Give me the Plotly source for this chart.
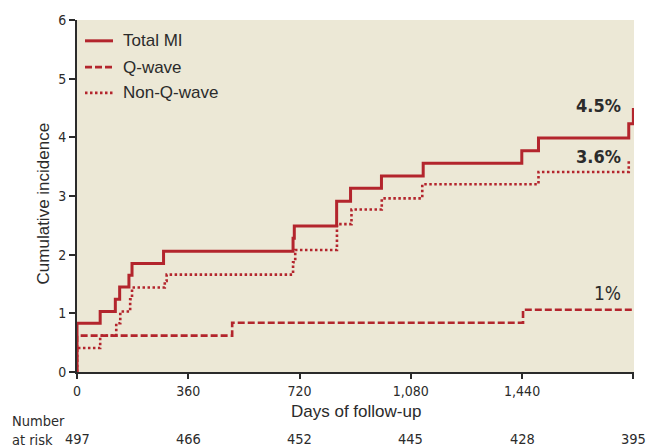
import plotly.graph_objects as go

# Kaplan-Meier style cumulative incidence (%) by days of follow-up
total_days = [0, 0, 75, 124, 138, 168, 178, 280, 699, 703, 840, 885, 985, 1120, 1439, 1493, 1785, 1800]
total_vals = [0, 0.83, 1.03, 1.24, 1.45, 1.65, 1.85, 2.06, 2.28, 2.49, 2.91, 3.13, 3.34, 3.56, 3.77, 3.99, 4.23, 4.5]

qwave_days = [0, 0, 502, 1443, 1800]
qwave_vals = [0, 0.62, 0.84, 1.06, 1.06]

nonq_days = [0, 0, 75, 127, 140, 172, 178, 284, 290, 699, 706, 841, 888, 986, 1117, 1493, 1785]
nonq_vals = [0, 0.41, 0.62, 0.83, 1.03, 1.24, 1.44, 1.55, 1.66, 1.87, 2.08, 2.52, 2.77, 2.96, 3.2, 3.41, 3.6]

series_names = ["Total MI", "Q-wave", "Non-Q-wave"]

x_ticks = [0, 360, 720, 1080, 1440, 1800]
y_ticks = [0, 1, 2, 3, 4, 5, 6]
at_risk = [497, 466, 452, 445, 428, 395]

RED = "#B3252D"
INK = "#2b2b2b"
BG = "#ECE8D6"
NARROW = "DejaVu Sans Condensed, Liberation Sans Narrow, sans-serif"
SANS = "Liberation Sans, Arial, sans-serif"

W, H = 648, 447
ML, MR, MT, MB = 77, 14, 17, 75
PW, PH = W - ML - MR, H - MT - MB


def px_x(px):
    return (px - ML) / PW


def px_y(py):
    return (H - MB - py) / PH


styles = [
    dict(dash="solid", width=3),
    dict(dash="7px,3px", width=2.6),
    dict(dash="2.5px,2.5px", width=2.6),
]
series = [(total_days, total_vals), (qwave_days, qwave_vals), (nonq_days, nonq_vals)]

fig = go.Figure()
for (xs, ys), name, st in zip(series, series_names, styles):
    fig.add_trace(go.Scatter(
        x=xs, y=ys, mode="lines", name=name, showlegend=False,
        line=dict(color=RED, width=st["width"], dash=st["dash"], shape="hv"),
        hoverinfo="skip",
    ))

annotations = []
shapes = []

# legend drawn as short line samples with text
legend_rows = [38, 64.5, 90.5]
for name, st, py in zip(series_names, styles, legend_rows):
    shapes.append(dict(
        type="line", xref="paper", yref="paper",
        x0=px_x(85), x1=px_x(113), y0=px_y(py), y1=px_y(py),
        line=dict(color=RED, width=st["width"], dash=st["dash"]),
    ))
    annotations.append(dict(
        xref="paper", yref="paper", x=px_x(121), y=px_y(py),
        xanchor="left", yanchor="middle", showarrow=False,
        text=name, font=dict(family=SANS, size=17, color=INK),
    ))

# end-of-follow-up value labels
end_labels = [
    (total_vals[-1], f"<b>{total_vals[-1]:.1f}%</b>", 3, 18),
    (nonq_vals[-1], f"<b>{nonq_vals[-1]:.1f}%</b>", 4, 18),
    (qwave_vals[-1], f"{qwave_vals[-1]:.0f}%", 17, 19),
]
for val, txt, shift, size in end_labels:
    annotations.append(dict(
        x=1768, y=val, xref="x", yref="y", xanchor="right", yanchor="middle",
        yshift=shift, showarrow=False, text=txt,
        font=dict(family=NARROW, size=size, color=INK),
    ))

# axis titles
annotations.append(dict(
    xref="paper", yref="paper", x=px_x(43), y=px_y(202),
    xanchor="center", yanchor="middle", textangle=-90, showarrow=False,
    text="Cumulative incidence", font=dict(family=SANS, size=17, color=INK),
))
annotations.append(dict(
    xref="paper", yref="paper", x=px_x(355.5), y=px_y(412),
    xanchor="center", yanchor="middle", showarrow=False,
    text="Days of follow-up", font=dict(family=SANS, size=17, color=INK),
))

# number at risk row
annotations.append(dict(
    xref="paper", yref="paper", x=px_x(10), y=px_y(431),
    xanchor="left", yanchor="middle", align="left", showarrow=False,
    text="Number<br>at risk", font=dict(family=NARROW, size=14.5, color=INK),
))
for d, n in zip(x_ticks, at_risk):
    annotations.append(dict(
        x=d, xref="x", yref="paper", y=px_y(440),
        xanchor="center", yanchor="middle", showarrow=False,
        text=str(n), font=dict(family=NARROW, size=14.5, color=INK),
    ))

fig.update_layout(
    width=W, height=H,
    margin=dict(l=ML, r=MR, t=MT, b=MB, pad=0),
    paper_bgcolor="white", plot_bgcolor=BG,
    showlegend=False,
    annotations=annotations, shapes=shapes,
    xaxis=dict(
        range=[0, 1802], tickvals=x_ticks, tickformat=",d",
        showgrid=False, zeroline=False, showline=True,
        linecolor=INK, linewidth=2, ticks="outside", ticklen=5,
        tickwidth=1.5, tickcolor=INK,
        tickfont=dict(family=NARROW, size=14, color=INK),
    ),
    yaxis=dict(
        range=[0, 6], tickvals=y_ticks,
        showgrid=False, zeroline=False, showline=True,
        linecolor=INK, linewidth=2, ticks="outside", ticklen=6,
        tickwidth=1.5, tickcolor=INK,
        tickfont=dict(family=NARROW, size=14, color=INK),
    ),
)

fig.write_html("out.html")
